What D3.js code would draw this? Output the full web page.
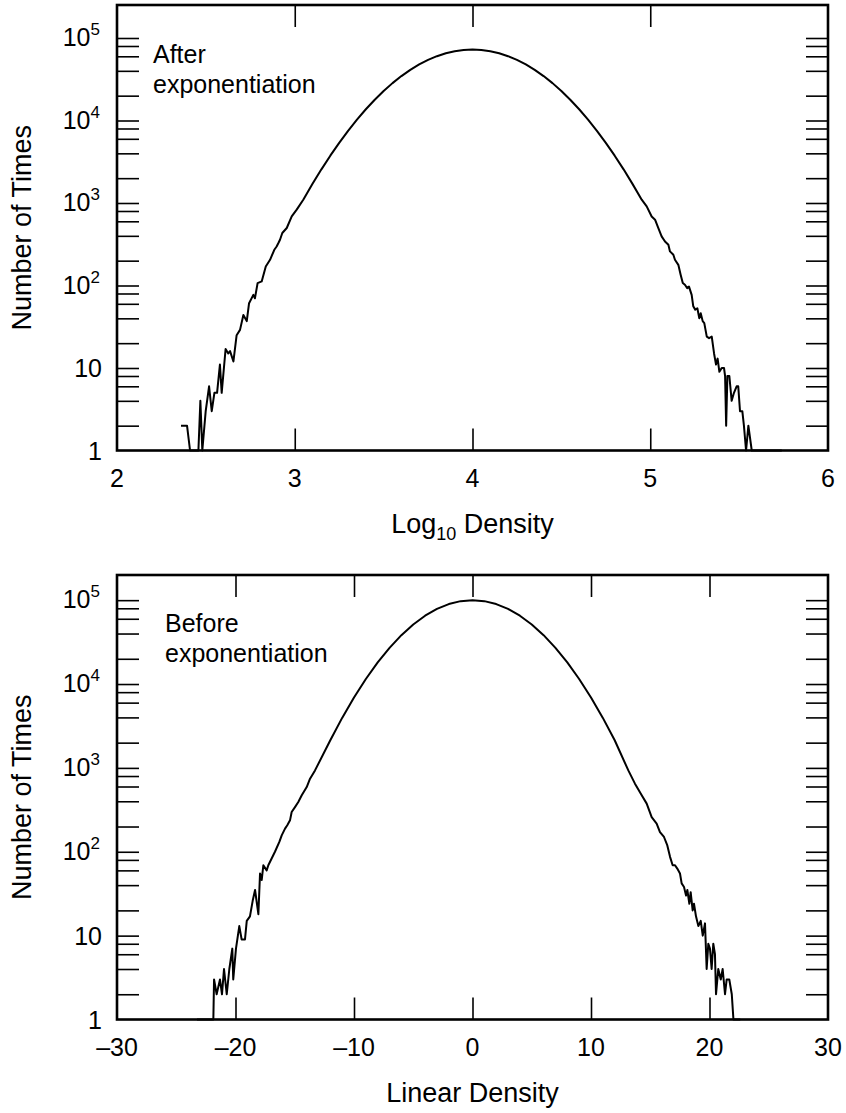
<!DOCTYPE html>
<html>
<head>
<meta charset="utf-8">
<script src="https://cdn.jsdelivr.net/npm/d3@7"></script>
<style>
  html, body { margin: 0; padding: 0; background: #fff; }
  svg { display: block; }
</style>
</head>
<body>
<svg id="chart" width="846" height="1113"></svg>
<script>
// ---------------- DATA ----------------
// Top panel: histogram of log10 density (after exponentiation)
const afterX = [
  2.36, 2.394, 2.411, 2.458, 2.469, 2.48, 2.499, 2.518, 2.533, 2.548, 2.563, 2.579, 2.589,
  2.611, 2.626, 2.636, 2.655, 2.673, 2.692, 2.711, 2.73, 2.743, 2.767, 2.776, 2.791, 2.814,
  2.837, 2.861, 2.885, 2.898, 2.908, 2.917, 2.93, 2.955, 2.983, 3.011, 3.048,
  3.10, 3.15, 3.20, 3.25, 3.30, 3.35, 3.40, 3.45, 3.50, 3.55, 3.60, 3.65, 3.70, 3.75, 3.80,
  3.85, 3.90, 3.95, 4.00, 4.05, 4.10, 4.15, 4.20, 4.25, 4.30, 4.35, 4.40, 4.45, 4.50, 4.55,
  4.60, 4.65, 4.70, 4.75, 4.80, 4.85, 4.90,
  4.952, 4.98, 5.008, 5.027, 5.045, 5.064, 5.083, 5.102, 5.111, 5.13, 5.139, 5.158, 5.171,
  5.183, 5.195, 5.208, 5.218, 5.233, 5.242, 5.253, 5.265, 5.276, 5.284, 5.295, 5.304, 5.318,
  5.331, 5.346, 5.359, 5.37, 5.379, 5.389, 5.402, 5.415, 5.421, 5.427, 5.434, 5.445, 5.458,
  5.471, 5.486, 5.495, 5.505, 5.518, 5.527, 5.539, 5.552, 5.571, 5.74
];
const afterCount = [
  2, 2, 1, 1, 4, 1, 3, 6, 3, 5, 5, 11, 5,
  17, 15, 16, 12, 25, 29, 44, 37, 61, 77, 70, 107, 112,
  170, 205, 271, 297, 327, 359, 433, 498, 687, 830, 1096,
  1706, 2558, 3747, 5363, 7502, 10250, 13690, 17860, 22780, 28380, 34540, 41100, 47770, 54260, 60190,
  65270, 69150, 71600, 72400, 71600, 69150, 65270, 60190, 54260, 47770, 41100, 34540, 28380, 22780, 17860,
  13690, 10250, 7502, 5363, 3747, 2558, 1706,
  1096, 910, 687, 627, 498, 394, 342, 312, 259, 236, 205, 178, 135,
  107, 102, 93, 97, 77, 56, 51, 53, 40, 46, 37, 35, 24,
  23, 24, 15, 11, 13, 9, 10, 10, 8, 2, 8, 8, 4,
  5, 6, 6, 3, 3, 2, 1, 2, 1, 1
];

// Bottom panel: histogram of linear density (before exponentiation)
const beforeX = [
  -23.25, -21.87, -21.81, -21.59, -21.31, -21.14, -20.97, -20.74, -20.52, -20.27, -20.19, -19.96,
  -19.68, -19.48, -19.2, -19.05, -18.78, -18.55, -18.35, -18.07, -17.93, -17.79, -17.65, -17.37,
  -17.23, -16.95, -16.67, -16.3, -16.1, -15.82, -15.63, -15.4, -15.26, -14.98, -14.7, -14.41,
  -13.99, -13.71, -13.29,
  -12, -11, -10, -9, -8, -7, -6, -5, -4, -3, -2, -1, 0, 1, 2, 3, 4, 5, 6, 7, 8, 9, 10, 11, 12,
  13.15, 13.71, 14.28, 14.7, 15.12, 15.54, 15.82, 16.16, 16.44, 16.67, 16.89, 17.09, 17.28,
  17.51, 17.65, 17.85, 18.02, 18.13, 18.3, 18.41, 18.58, 18.69, 18.86, 19.06, 19.26, 19.43,
  19.62, 19.76, 19.9, 20.04, 20.18, 20.32, 20.46, 20.55, 20.74, 20.95, 21.11, 21.31, 21.45,
  21.67, 21.88, 22.02, 22.6
];
const beforeCount = [
  1, 1, 3, 2, 3, 2, 4, 2, 4, 7, 3, 7,
  13, 9, 9, 15, 17, 26, 35, 18, 55, 46, 69, 60,
  69, 83, 100, 131, 157, 189, 207, 237, 298, 341, 392, 471,
  591, 743, 933,
  2136, 3948, 6918, 11490, 18100, 27020, 38230, 51290, 65220, 78640, 89870, 97360, 100000,
  97360, 89870, 78640, 65220, 51290, 38230, 27020, 18100, 11490, 6918, 3948, 2136,
  933, 649, 471, 375, 259, 217, 172, 150, 119, 87, 69, 69, 63,
  55, 42, 38, 30, 35, 24, 33, 20, 24, 17, 13, 15, 10,
  14, 4, 8, 7, 4, 8, 6, 2, 4, 3, 4, 2, 3,
  3, 2, 1, 1
];

const afterXTicks = [2, 3, 4, 5, 6];
const beforeXTicks = [-30, -20, -10, 0, 10, 20, 30];
const yDecades = [0, 1, 2, 3, 4, 5];            // labels 1, 10, 10^2 ... 10^5
const yMinorMultipliers = [2, 4, 6, 8, 10];       // tick marks per decade
const yTitle = "Number of Times";
const afterNote = ["After", "exponentiation"];
const beforeNote = ["Before", "exponentiation"];

// ---------------- DRAWING ----------------
const FONT = "'Liberation Sans', Arial, Helvetica, sans-serif";
const svg = d3.select("#chart");
const L = 117, R = 828;
const TICK = 22;
const TITLE_SIZE = 27;

function fmtTick(v) {
  return v < 0 ? "\u2013" + Math.abs(v) : String(v);
}

function drawPanel(cfg) {
  const g = svg.append("g");
  const x = d3.scaleLinear().domain(cfg.xDomain).range([L, R]);
  const y = d3.scaleLog().domain([1, cfg.yMax]).range([cfg.bottom, cfg.top]);

  const yTicks = [];
  yDecades.forEach(e => {
    if (e >= 5) return;
    yMinorMultipliers.forEach(m => {
      const v = m * Math.pow(10, e);
      if (v <= cfg.yMax) yTicks.push(v);
    });
  });

  const xInner = cfg.xTicks.slice(1, -1);

  const axStyle = sel => {
    sel.select(".domain").remove();
    sel.selectAll(".tick line").attr("stroke", "#000").attr("stroke-width", 1.6);
    sel.selectAll(".tick text").remove();
  };

  g.append("g").attr("transform", `translate(${L},0)`)
    .call(d3.axisLeft(y).tickValues(yTicks).tickSizeInner(-TICK).tickSizeOuter(0).tickFormat(""))
    .call(axStyle);
  g.append("g").attr("transform", `translate(${R},0)`)
    .call(d3.axisRight(y).tickValues(yTicks).tickSizeInner(-TICK).tickSizeOuter(0).tickFormat(""))
    .call(axStyle);
  g.append("g").attr("transform", `translate(0,${cfg.bottom})`)
    .call(d3.axisBottom(x).tickValues(xInner).tickSizeInner(-TICK).tickSizeOuter(0).tickFormat(""))
    .call(axStyle);
  g.append("g").attr("transform", `translate(0,${cfg.top})`)
    .call(d3.axisTop(x).tickValues(xInner).tickSizeInner(-TICK).tickSizeOuter(0).tickFormat(""))
    .call(axStyle);

  const data = cfg.xs.map((v, i) => [v, cfg.ns[i]]);
  g.append("path")
    .datum(data)
    .attr("fill", "none")
    .attr("stroke", "#000")
    .attr("stroke-width", 2)
    .attr("stroke-linejoin", "round")
    .attr("d", d3.line().x(d => x(d[0])).y(d => y(d[1])));

  g.append("rect")
    .attr("x", L).attr("y", cfg.top)
    .attr("width", R - L).attr("height", cfg.bottom - cfg.top)
    .attr("fill", "none").attr("stroke", "#000").attr("stroke-width", 2.6);

  g.selectAll(".xl").data(cfg.xTicks).join("text")
    .attr("x", d => x(d)).attr("y", cfg.bottom + 36.5)
    .attr("text-anchor", "middle")
    .attr("font-family", FONT).attr("font-size", 25)
    .text(d => fmtTick(d));

  yDecades.forEach(e => {
    const yy = y(Math.pow(10, e));
    if (e <= 1) {
      g.append("text")
        .attr("x", 102).attr("y", yy + 9)
        .attr("text-anchor", "end")
        .attr("font-family", FONT).attr("font-size", 25)
        .text(e === 0 ? "1" : "10");
    } else {
      const t = g.append("text")
        .attr("x", 100).attr("y", yy + 8)
        .attr("text-anchor", "end")
        .attr("font-family", FONT).attr("font-size", 25);
      t.append("tspan").text("10");
      t.append("tspan").attr("dy", -11).attr("font-size", 17).text(String(e));
    }
  });

  g.append("text")
    .attr("transform", `translate(31,${(cfg.top + cfg.bottom) / 2}) rotate(-90)`)
    .attr("text-anchor", "middle")
    .attr("font-family", FONT).attr("font-size", TITLE_SIZE)
    .text(yTitle);

  const xt = g.append("text")
    .attr("x", (L + R) / 2).attr("y", cfg.bottom + 82)
    .attr("text-anchor", "middle")
    .attr("font-family", FONT).attr("font-size", TITLE_SIZE);
  cfg.xTitle(xt);

  cfg.note.forEach((s, i) => {
    g.append("text")
      .attr("x", cfg.noteX).attr("y", cfg.noteY + i * 30)
      .attr("font-family", FONT).attr("font-size", 25)
      .text(s);
  });
}

drawPanel({
  xDomain: [2, 6], xTicks: afterXTicks, yMax: Math.pow(10, 5.4),
  top: 5, bottom: 450.5, xs: afterX, ns: afterCount,
  note: afterNote, noteX: 153, noteY: 63,
  xTitle: t => {
    t.append("tspan").text("Log");
    t.append("tspan").attr("dy", 7).attr("font-size", 18).text("10");
    t.append("tspan").attr("dy", -7).text("\u00a0Density");
  }
});

drawPanel({
  xDomain: [-30, 30], xTicks: beforeXTicks, yMax: Math.pow(10, 5.3),
  top: 575, bottom: 1019.5, xs: beforeX, ns: beforeCount,
  note: beforeNote, noteX: 165, noteY: 632,
  xTitle: t => t.text("Linear Density")
});
</script>
</body>
</html>
